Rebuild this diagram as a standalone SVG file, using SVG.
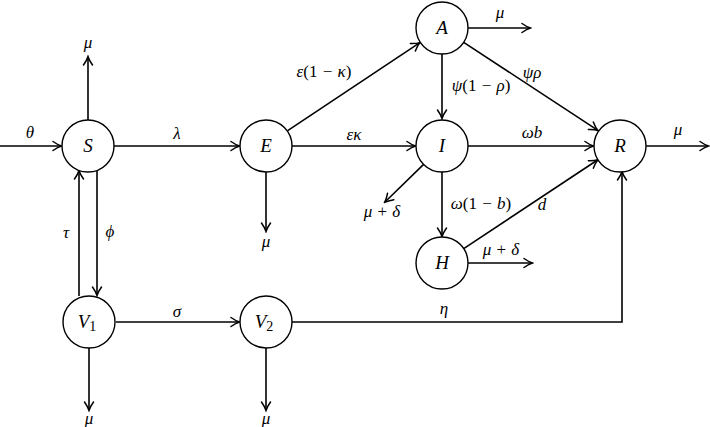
<svg xmlns="http://www.w3.org/2000/svg" width="710" height="427" viewBox="0 0 710 427">
<style>
  .node circle { fill: #fff; stroke: #000; stroke-width: 1.4; }
  .nl { font-family: "Liberation Serif", "DejaVu Serif", serif; font-style: italic; font-size: 19px; text-anchor: middle; }
  .el { font-family: "Liberation Serif", "DejaVu Serif", serif; font-style: italic; font-size: 17px; text-anchor: middle; }
  .up { font-style: normal; }
  .edges line, .edges polyline { stroke: #000; stroke-width: 1.6; fill: none; marker-end: url(#arr); }
</style>
<defs>
  <marker id="arr" markerUnits="userSpaceOnUse" viewBox="-9 -6 11 12" refX="0" refY="0" markerWidth="11" markerHeight="12" orient="auto">
    <path d="M-8,-4.5 Q-3,-1 0.5,0 Q-3,1 -8,4.5" fill="none" stroke="#000" stroke-width="1.5" stroke-linecap="round"/>
  </marker>
</defs>
<rect width="710" height="427" fill="#fff"/>
<g class="edges">
  <line x1="0" y1="146" x2="61" y2="146"/>
  <line x1="88" y1="120" x2="88" y2="57"/>
  <line x1="114" y1="146" x2="239" y2="146"/>
  <line x1="79" y1="296" x2="79" y2="171"/>
  <line x1="97" y1="171" x2="97" y2="295"/>
  <line x1="116" y1="322" x2="239" y2="322"/>
  <line x1="89" y1="348" x2="89" y2="410"/>
  <line x1="266" y1="348" x2="266" y2="410"/>
  <line x1="266" y1="171" x2="266" y2="231"/>
  <line x1="287.7" y1="130.6" x2="419.5" y2="42.9"/>
  <line x1="292" y1="146" x2="415" y2="146"/>
  <line x1="468" y1="28" x2="530" y2="28"/>
  <line x1="442" y1="54" x2="442" y2="118"/>
  <line x1="463.7" y1="42.3" x2="597.5" y2="130.2"/>
  <line x1="468" y1="146" x2="593" y2="146"/>
  <line x1="646" y1="146" x2="708" y2="146"/>
  <line x1="423.6" y1="164.4" x2="385" y2="202"/>
  <line x1="442" y1="172" x2="442" y2="236"/>
  <line x1="463.7" y1="248.6" x2="597.5" y2="160"/>
  <line x1="468" y1="263" x2="532" y2="263"/>
  <polyline points="292,322 622,322 622,172"/>
</g>
<g id="node-S" class="node"><circle cx="88" cy="146" r="26"/><text class="nl" x="88" y="152">S</text></g>
<g id="node-E" class="node"><circle cx="266" cy="146" r="26"/><text class="nl" x="266" y="152">E</text></g>
<g id="node-A" class="node"><circle cx="442" cy="28" r="26"/><text class="nl" x="442" y="34">A</text></g>
<g id="node-I" class="node"><circle cx="442" cy="146" r="26"/><text class="nl" x="442" y="152">I</text></g>
<g id="node-R" class="node"><circle cx="620" cy="146" r="26"/><text class="nl" x="620" y="152">R</text></g>
<g id="node-H" class="node"><circle cx="442" cy="263" r="26"/><text class="nl" x="442" y="269">H</text></g>
<g id="node-V1" class="node"><circle cx="89" cy="322" r="26"/><text class="nl" x="87" y="328">V<tspan class="up" font-size="14" dy="3">1</tspan></text></g>
<g id="node-V2" class="node"><circle cx="266" cy="322" r="26"/><text class="nl" x="264" y="328">V<tspan class="up" font-size="14" dy="3">2</tspan></text></g>
<g id="labels">
  <text class="el" x="30" y="138">θ</text>
  <text class="el" x="88" y="48">μ</text>
  <text class="el" x="177" y="139">λ</text>
  <text class="el" x="66" y="238">τ</text>
  <text class="el" x="110" y="237">ϕ</text>
  <text class="el" x="177" y="317">σ</text>
  <text class="el" x="444" y="314">η</text>
  <text class="el" x="89" y="424">μ</text>
  <text class="el" x="266" y="424">μ</text>
  <text class="el" x="266" y="247">μ</text>
  <text class="el" x="324" y="77">ε<tspan class="up">(1 <tspan dx="1">−</tspan> </tspan><tspan dx="1">κ</tspan><tspan class="up">)</tspan></text>
  <text class="el" x="354" y="140">εκ</text>
  <text class="el" x="500" y="18">μ</text>
  <text class="el" x="481" y="91">ψ<tspan class="up">(1 <tspan dx="1">−</tspan> </tspan><tspan dx="1">ρ</tspan><tspan class="up">)</tspan></text>
  <text class="el" x="532" y="78">ψρ</text>
  <text class="el" x="532" y="138">ωb</text>
  <text class="el" x="678" y="135">μ</text>
  <text class="el" x="382" y="217">μ<tspan class="up"> <tspan dx="1">+</tspan> </tspan><tspan dx="1">δ</tspan></text>
  <text class="el" x="481" y="209">ω<tspan class="up">(1 <tspan dx="1">−</tspan> </tspan><tspan dx="1">b</tspan><tspan class="up">)</tspan></text>
  <text class="el" x="542" y="210">d</text>
  <text class="el" x="501" y="255">μ<tspan class="up"> <tspan dx="1">+</tspan> </tspan><tspan dx="1">δ</tspan></text>
</g>
</svg>
